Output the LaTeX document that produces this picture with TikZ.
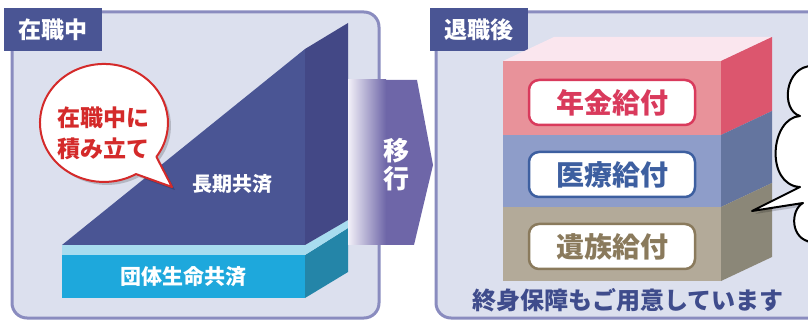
\documentclass[tikz,border=0pt]{standalone}
\usepackage{fontspec}
\setmainfont{Noto Sans CJK JP}
\definecolor{panelfill}{HTML}{DCE0EE}
\definecolor{panelline}{HTML}{8A8CBF}
\definecolor{tabc}{HTML}{4A5594}
\definecolor{trifront}{HTML}{4A5594}
\definecolor{triside}{HTML}{434886}
\definecolor{lightcyan}{HTML}{A8DCEF}
\definecolor{cyanfront}{HTML}{1EA8DC}
\definecolor{cyanside}{HTML}{2485A8}
\definecolor{bubred}{HTML}{D42A2A}
\definecolor{arrowc}{HTML}{6E66A8}
\definecolor{arrowl}{HTML}{F2F0F8}
\definecolor{pinktop}{HTML}{FAE6EE}
\definecolor{redfront}{HTML}{E8929A}
\definecolor{redside}{HTML}{DC566E}
\definecolor{bluefront}{HTML}{8E9DC9}
\definecolor{blueside}{HTML}{64759F}
\definecolor{tanfront}{HTML}{B3AA99}
\definecolor{tanside}{HTML}{8B8778}
\definecolor{redlab}{HTML}{D93A5C}
\definecolor{bluelab}{HTML}{3D5FA0}
\definecolor{tanlab}{HTML}{8A7A5C}
\definecolor{navytext}{HTML}{3F4C8C}
\tikzset{
  panel/.style={fill=panelfill, draw=panelline, line width=3pt, rounded corners=15pt},
  tabbox/.style={fill=tabc, minimum width=98pt, minimum height=43pt, inner sep=0pt, text=white, font=\fontsize{23}{23}\selectfont\bfseries},
  whitetxt/.style={text=white, inner sep=0pt, font=\bfseries},
  labbox/.style={fill=white, rounded corners=10pt, line width=2.5pt, minimum width=166pt, minimum height=45pt, inner sep=0pt, font=\fontsize{28}{28}\selectfont\bfseries},
}
\begin{document}
\begin{tikzpicture}[x=1pt,y=-1pt]
\clip (0,0) rectangle (808,320);
\fill[white] (0,0) rectangle (808,320);
% panels
\draw[panel] (12,12) rectangle (379,318);
\draw[panel] (436,12) rectangle (840,318);
% left: cyan block
\fill[cyanfront] (62,255) rectangle (305,298);
\fill[cyanside] (305,255) -- (348,228) -- (348,272) -- (305,298) -- cycle;
\fill[lightcyan] (62,245) -- (62,255) -- (305,255) -- (348,228) -- (348,220) -- (305,245) -- cycle;
% triangle
\fill[trifront] (62,245) -- (305,49) -- (305,245) -- cycle;
\fill[triside] (305,49) -- (348,23) -- (348,220) -- (305,245) -- cycle;
\node[whitetxt, font=\fontsize{20}{20}\selectfont\bfseries] (choki) at (232,184) {長期共済};
\node[whitetxt, font=\fontsize{21}{21}\selectfont\bfseries] (dantai) at (183,277) {団体生命共済};
% bubble
\fill[black, opacity=0.18] (159.4,159.8) arc[start angle=35, end angle=-300, x radius=64, y radius=59] -- (175,190) -- cycle;
\draw[bubred, fill=white, line width=2pt, line join=round] (156.4,156.8) arc[start angle=35, end angle=-300, x radius=64, y radius=59] -- (172,187) -- cycle;
\node[text=bubred, align=center, inner sep=0pt, font=\fontsize{23}{31}\selectfont\bfseries] (tsumi) at (103,133) {在職中に\\積み立て};
% tabs
\node[tabbox] (tabL) at (53,29.5) {在職中};
\node[tabbox] (tabR) at (479,29.5) {退職後};
% arrow
\fill[arrowc] (348,80) -- (417,80) -- (433,165) -- (414,245) -- (348,245) -- cycle;
\shade[left color=arrowl, right color=arrowc] (348,80) rectangle (386,245);
\node[whitetxt, align=center, font=\fontsize{26}{28}\selectfont\bfseries] (iko) at (396,165) {移\\行};
% right box
\fill[pinktop] (503,61) -- (721,61) -- (772,37) -- (554,37) -- cycle;
\fill[redfront] (503,61) rectangle (721,135);
\fill[bluefront] (503,135) rectangle (721,207);
\fill[tanfront] (503,207) rectangle (721,281);
\fill[redside] (721,61) -- (772,37) -- (772,111) -- (721,135) -- cycle;
\fill[blueside] (721,135) -- (772,111) -- (772,183) -- (721,207) -- cycle;
\fill[tanside] (721,207) -- (772,183) -- (772,257) -- (721,281) -- cycle;
\node[labbox, draw=redlab, text=redlab] (nenkin) at (612,102.5) {年金給付};
\node[labbox, draw=bluelab, text=bluelab] (iryo) at (612,174.5) {医療給付};
\node[labbox, draw=tanlab, text=tanlab] (izoku) at (612,246.5) {遺族給付};
\node[text=navytext, inner sep=0pt, font=\fontsize{24}{24}\selectfont\bfseries] (shushin) at (628,300) {終身保障もご用意しています};
% cloud bubble (partly outside)
\fill[black, opacity=0.18] (815,69) .. controls (788,69) and (783,113) .. (803,119)
  .. controls (773,121) and (768,188) .. (803,190) -- (755,214) -- (806,206)
  .. controls (793,213) and (793,243) .. (815,245) -- (840,245) -- (840,69) -- cycle;
\draw[black, fill=white, line width=2pt, line join=round] (812,66) .. controls (785,66) and (780,110) .. (800,116)
  .. controls (770,118) and (765,185) .. (800,187) -- (752,211) -- (803,203)
  .. controls (790,210) and (790,240) .. (812,242) -- (840,242) -- (840,66) -- cycle;
\end{tikzpicture}
\end{document}
